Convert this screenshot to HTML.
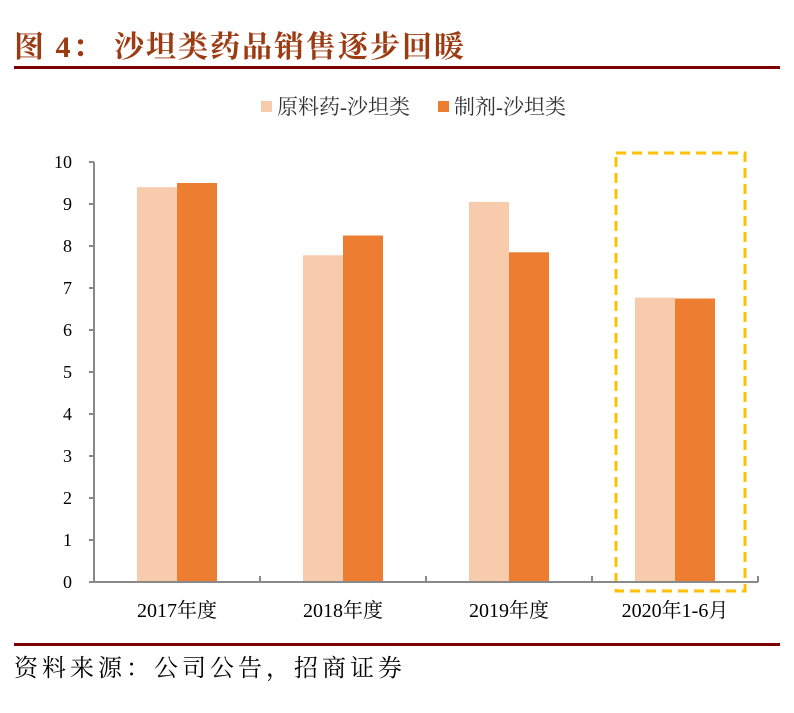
<!DOCTYPE html>
<html><head><meta charset="utf-8"><style>
html,body{margin:0;padding:0;background:#fff;}
body{width:794px;height:713px;overflow:hidden;position:relative;}
.title{position:absolute;left:14px;top:22px;font:bold 30px "Liberation Serif","Noto Serif CJK SC",serif;color:#9C3A12;letter-spacing:2px;white-space:pre;}
.rule{position:absolute;left:14px;width:766px;background:#7F0000;}
.src{position:absolute;left:14px;top:648px;font:24px "Liberation Serif","Noto Serif CJK SC",serif;color:#000;letter-spacing:4px;}
</style></head><body>
<div class="title">图 4： 沙坦类药品销售逐步回暖</div>
<div class="rule" style="top:66px;height:3px"></div>
<svg id="chart" width="794" height="713" style="position:absolute;left:0;top:0"></svg>
<div class="rule" style="top:643px;height:3px"></div>
<div class="src">资料来源：公司公告，招商证券</div>
<script>
const categories=["2017年度","2018年度","2019年度","2020年1-6月"];
const rawValues=[9.4,7.78,9.05,6.77];
const prepValues=[9.5,8.25,7.85,6.75];
const yTicks=[0,1,2,3,4,5,6,7,8,9,10];
const seriesNames=["原料药-沙坦类","制剂-沙坦类"];
const NS="http://www.w3.org/2000/svg";
const svg=document.getElementById('chart');
const x0=94,x1=758,y0=582,y1=162,yMax=10;
const bw=(x1-x0)/categories.length;
const Y=v=>y0-(v/yMax)*(y0-y1);
const XC=i=>x0+bw*(i+0.5);
function mk(t,a){const e=document.createElementNS(NS,t);for(const k in a)e.setAttribute(k,a[k]);svg.appendChild(e);return e;}
const font='"Liberation Serif","Noto Serif CJK SC",serif';
let hb=mk('rect',{x:616,y:153,width:129,height:438,fill:'none',stroke:'#FFC000','stroke-width':3,'stroke-dasharray':'10,6'});


yTicks.forEach(v=>{
  let t=mk('text',{x:x0-22,y:Y(v)+6,'text-anchor':'end','font-size':18,'font-family':font,fill:'#000'});t.textContent=v;
  
  
  mk('line',{x1:x0-5,x2:x0,y1:Y(v),y2:Y(v),stroke:'#898989','stroke-width':2});
});
categories.forEach((c,i)=>{
  const cx=XC(i);
  let a=mk('rect',{x:cx-40,y:Y(rawValues[i]),width:40,height:y0-Y(rawValues[i]),fill:'#F8CBAD'});
  
  
  let b=mk('rect',{x:cx,y:Y(prepValues[i]),width:40,height:y0-Y(prepValues[i]),fill:'#ED7D31'});
  
  
  let t=mk('text',{x:cx,y:617,'text-anchor':'middle','font-size':20,'font-family':font,fill:'#000'});t.textContent=c;
  
  
  mk('line',{x1:x0+bw*(i+1),x2:x0+bw*(i+1),y1:y0,y2:y0-6,stroke:'#898989','stroke-width':2});
});
let ax=mk('line',{x1:x0,x2:x1,y1:y0,y2:y0,stroke:'#898989','stroke-width':2});


let ay=mk('line',{x1:x0,x2:x0,y1:y1,y2:y0,stroke:'#898989','stroke-width':2});


const lx=[261,438],lc=['#F8CBAD','#ED7D31'];
seriesNames.forEach((n,i)=>{
  let r=mk('rect',{x:lx[i],y:101,width:11,height:11,fill:lc[i]});
  
  
  let t=mk('text',{x:lx[i]+16,y:114,'font-size':21,'font-family':font,fill:'#333'});t.textContent=n;
  
  
});
</script>
</body></html>
